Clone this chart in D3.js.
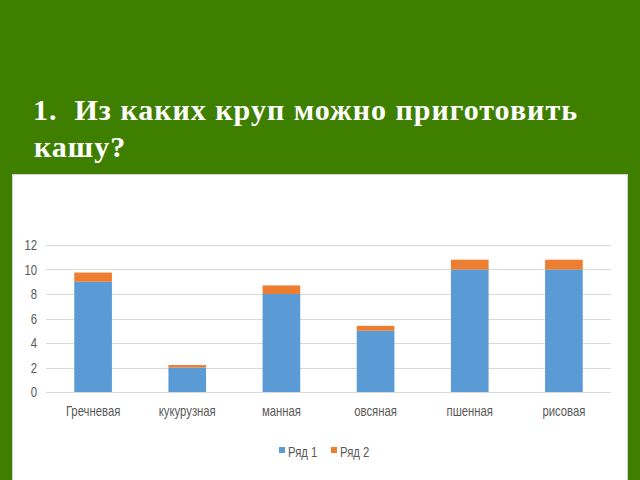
<!DOCTYPE html>
<html>
<head>
<meta charset="utf-8">
<script src="https://cdn.jsdelivr.net/npm/d3@7"></script>
<style>
  body { margin: 0; background: #3f7f00; }
  svg { display: block; }
</style>
</head>
<body>
<div id="chart"></div>
<script>
const categories = ["Гречневая", "кукурузная", "манная", "овсяная", "пшенная", "рисовая"];
const series1 = [9, 2, 8, 5, 10, 10];
const series2 = [0.75, 0.2, 0.7, 0.4, 0.8, 0.8];
const seriesNames = ["Ряд 1", "Ряд 2"];
const yTicks = [0, 2, 4, 6, 8, 10, 12];

const colors = ["#5b9bd5", "#ed7d31"];

const svg = d3.select('#chart')
  .append('svg')
    .attr('width', 640)
    .attr('height', 480);

svg.append('rect')
  .attr('width', 640).attr('height', 480)
  .attr('fill', '#3f7f00');

// title
const title = svg.append('text')
  .attr('fill', '#fff')
  .attr('font-family', '"Liberation Serif", "Times New Roman", serif')
  .attr('font-weight', 'bold')
  .attr('font-size', 30);
title.append('tspan').attr('x', 33).attr('y', 120)
  .attr('xml:space', 'preserve')
  .attr('textLength', 544).attr('lengthAdjust', 'spacing')
  .text('1.  Из каких круп можно приготовить');
title.append('tspan').attr('x', 34).attr('y', 157)
  .attr('letter-spacing', 1)
  .text('кашу?');

// panel
svg.append('rect')
  .attr('x', 12.5).attr('y', 174.5)
  .attr('width', 615).attr('height', 310)
  .attr('fill', '#fff')
  .attr('stroke', '#d0d0d0');

const margin = {top: 245, left: 46, right: 29, bottom: 88};
const graphWidth = 640 - margin.left - margin.right;
const graphHeight = 480 - margin.top - margin.bottom;

const graph = svg.append('g')
  .attr('transform', `translate(${margin.left},${margin.top})`);

const table = categories.map((c, i) => ({cat: c, s1: series1[i], s2: series2[i]}));
const stacked = d3.stack().keys(['s1', 's2'])(table);

const x = d3.scaleBand()
  .domain(categories)
  .range([0, graphWidth])
  .paddingInner(0.6)
  .paddingOuter(0.3);

const y = d3.scaleLinear()
  .domain([0, 12])
  .range([graphHeight, 0]);

// gridlines
graph.append('g')
  .selectAll('line')
  .data(yTicks)
  .enter()
  .append('line')
    .attr('x1', 0).attr('x2', graphWidth)
    .attr('y1', d => Math.round(y(d)) + 0.5)
    .attr('y2', d => Math.round(y(d)) + 0.5)
    .attr('stroke', '#d9d9d9')
    .attr('stroke-width', 1);

// bars
graph.selectAll('g.layer')
  .data(stacked)
  .enter()
  .append('g')
    .attr('class', 'layer')
    .attr('fill', (d, i) => colors[i])
  .selectAll('rect')
  .data(d => d)
  .enter()
  .append('rect')
    .attr('x', d => x(d.data.cat))
    .attr('width', x.bandwidth())
    .attr('y', d => y(d[1]))
    .attr('height', d => y(d[0]) - y(d[1]));

const labelFont = '"Liberation Sans", Arial, sans-serif';

// squeeze labels sideways to get the narrow Calibri look
function narrow(sel, size) {
  sel.attr('font-family', labelFont)
    .attr('font-size', size)
    .attr('fill', '#595959')
    .each(function() {
      const w = this.getComputedTextLength();
      d3.select(this)
        .attr('textLength', w * 0.78)
        .attr('lengthAdjust', 'spacingAndGlyphs');
    });
}

const yAxis = d3.axisLeft(y).tickValues(yTicks).tickSize(0).tickPadding(9);
const yAxisGroup = graph.append('g').call(yAxis);
yAxisGroup.select('.domain').remove();
narrow(yAxisGroup.selectAll('text'), 14.5);

const xAxis = d3.axisBottom(x).tickSize(0).tickPadding(14);
const xAxisGroup = graph.append('g')
  .attr('transform', `translate(0,${graphHeight})`)
  .call(xAxis);
xAxisGroup.select('.domain').remove();
narrow(xAxisGroup.selectAll('text'), 14.5);

// legend
const legend = svg.append('g')
  .attr('transform', 'translate(279,452)');
const legendItems = legend.selectAll('g')
  .data(seriesNames)
  .enter()
  .append('g')
    .attr('transform', (d, i) => `translate(${i * 52},0)`);
legendItems.append('rect')
  .attr('x', 0).attr('y', -5)
  .attr('width', 6).attr('height', 6)
  .attr('fill', (d, i) => colors[i]);
narrow(legendItems.append('text')
  .attr('x', 9).attr('y', 0)
  .attr('dy', '0.35em')
  .text(d => d), 14.5);
</script>
</body>
</html>
